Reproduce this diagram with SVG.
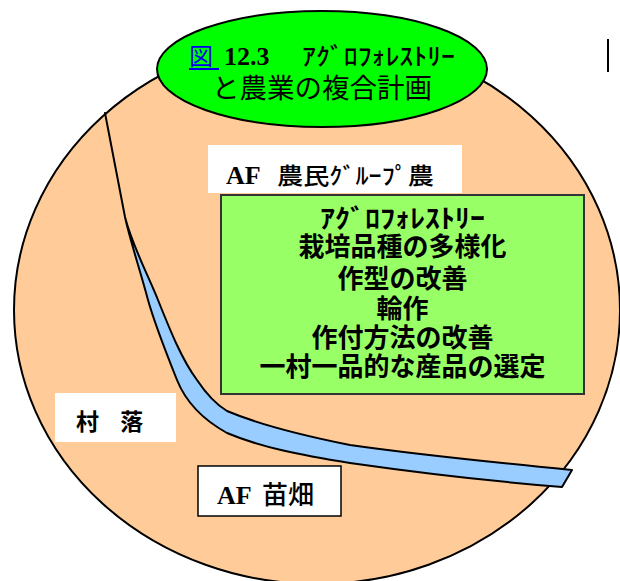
<svg xmlns="http://www.w3.org/2000/svg" width="620" height="581" viewBox="0 0 620 581">
<style>
.jp{font-family:"Noto Sans CJK JP","Noto Sans CJK SC",sans-serif;fill:#000}
.ser{font-family:"Liberation Serif","DejaVu Serif",serif;font-weight:bold;fill:#000}
.box{font-weight:bold;font-size:26px}
</style>
<rect width="620" height="581" fill="#fff"/>
<g id="field">
<ellipse cx="317" cy="310" rx="303" ry="274" fill="#FFCC99" stroke="#000" stroke-width="2"/>
</g>
<g id="title">
<ellipse cx="322" cy="69" rx="165" ry="58" fill="#00FF00" stroke="#000" stroke-width="2"/>
<text class="jp" x="189" y="65" font-size="24" style="fill:#0000EE">図</text>
<line x1="189" y1="69" x2="219" y2="69" stroke="#0000EE" stroke-width="2"/>
<text class="ser" x="224" y="65" font-size="26">12.3</text>
<text class="jp" x="302" y="65" font-size="24" font-weight="500" textLength="153" lengthAdjust="spacingAndGlyphs">ｱｸﾞﾛﾌｫﾚｽﾄﾘｰ</text>
<text class="jp" x="212" y="98" font-size="27" textLength="220" lengthAdjust="spacingAndGlyphs">と農業の複合計画</text>
</g>
<g id="connectors">
<path d="M105,113 C112,150 119,185 125,217 C132,245 148,275 158,300 C170,330 182,360 197,380 C207,395 217,405 227,411 C260,425 300,435 350,445 C420,455 500,463 572,470 L562,487 C500,482 420,473 350,463 C300,455 260,447 227,433 C200,418 185,400 177,380 C165,350 155,325 148,300 C140,270 130,240 125,217 Z" fill="#99CCFF" stroke="#000" stroke-width="2" stroke-linejoin="round"/>
</g>
<g id="group-farm">
<rect x="208" y="145" width="254" height="48" fill="#fff"/>
<text class="ser" x="226" y="184" font-size="26">AF</text>
<text class="jp" x="277" y="184" font-size="23" font-weight="500" textLength="157" lengthAdjust="spacingAndGlyphs">農民ｸﾞﾙｰﾌﾟ農</text>
</g>
<g id="af-box">
<rect x="221" y="195" width="363" height="199" fill="#99FF66" stroke="#333" stroke-width="2"/>
<text class="jp box" x="402.5" y="228" font-size="24" text-anchor="middle" textLength="165" lengthAdjust="spacingAndGlyphs">ｱｸﾞﾛﾌｫﾚｽﾄﾘｰ</text>
<text class="jp box" x="402.5" y="256" text-anchor="middle">栽培品種の多様化</text>
<text class="jp box" x="402.5" y="288" text-anchor="middle">作型の改善</text>
<text class="jp box" x="402.5" y="318" text-anchor="middle">輪作</text>
<text class="jp box" x="402.5" y="347" text-anchor="middle">作付方法の改善</text>
<text class="jp box" x="402.5" y="376" text-anchor="middle">一村一品的な産品の選定</text>
</g>
<g id="village">
<rect x="55" y="393" width="121" height="49" fill="#fff"/>
<text class="jp" x="76" y="430" font-size="23" font-weight="bold" word-spacing="16">村 落</text>
</g>
<g id="nursery">
<rect x="198" y="466" width="143" height="50" fill="#fff" stroke="#000" stroke-width="1.5"/>
<text class="ser" x="217" y="504" font-size="26">AF</text>
<text class="jp" x="262" y="504" font-size="26" font-weight="500">苗畑</text>
</g>
<line x1="608" y1="39" x2="608" y2="72" stroke="#000" stroke-width="2"/>
</svg>
